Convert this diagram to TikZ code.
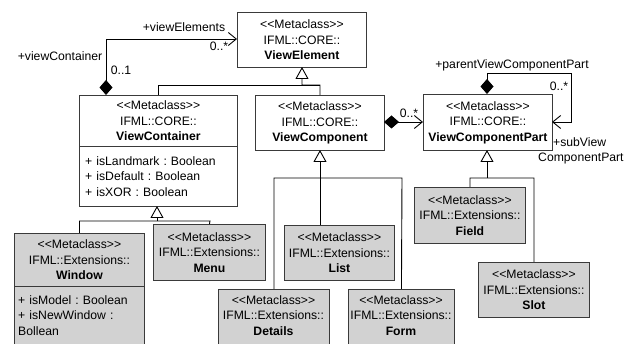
\documentclass[tikz,border=0pt]{standalone}
\usepackage{fontspec}
\setmainfont{Liberation Sans}
\usetikzlibrary{arrows.meta}
\newcommand\metacl{<{}<Metaclass>{}>}
\definecolor{boxline}{HTML}{3A3A3A}
\definecolor{extfill}{HTML}{D2D2D2}
\begin{document}
\frenchspacing
\begin{tikzpicture}[x=1pt,y=-1pt,
  every node/.style={font=\frenchspacing\fontsize{12.2}{15.5}\selectfont, inner sep=0pt},
  cls/.style={draw=boxline, line width=0.9pt, anchor=north west, align=center, fill=white},
  ext/.style={cls, fill=extfill},
  box/.style={draw=boxline, line width=0.9pt, anchor=north west, fill=white},
  attrtext/.style={anchor=north west, align=left},
  lbl/.style={font=\fontsize{12.2}{14}\selectfont, inner sep=1pt},
  conn/.style={draw=black, line width=0.9pt},
  gen/.style={conn, -{Triangle[open, width=13pt, length=12pt, fill=white]}},
  assoc/.style={conn, {Diamond[width=13pt, length=15pt]}-{Straight Barb[length=8pt, width=13pt]}}
]
\clip (0,0) rectangle (635,344);
\fill[white] (0,0) rectangle (635,344);

% core classes
\node[cls, minimum width=129pt, minimum height=55pt] (ve) at (237,12)
  {\metacl\\IFML::CORE::\\\textbf{ViewElement}};
\node[cls, minimum width=158pt, minimum height=51pt] (vc) at (79,95)
  {\metacl\\IFML::CORE::\\\textbf{ViewContainer}};
\node[box, minimum width=158pt, minimum height=60pt] (vca) at (79,146) {};
\node[attrtext, text width=150pt] (vcat) at (85,156)
  {+ isLandmark : Boolean\\+ isDefault : Boolean\\+ isXOR : Boolean};
\node[cls, minimum width=129pt, minimum height=55pt] (vcomp) at (255,95)
  {\metacl\\IFML::CORE::\\\textbf{ViewComponent}};
\node[cls, minimum width=129pt, minimum height=56pt] (vcp) at (423,94)
  {\metacl\\IFML::CORE::\\\textbf{ViewComponentPart}};

% extension classes
\node[ext, minimum width=130pt, minimum height=53pt] (win) at (14,233)
  {\metacl\\IFML::Extensions::\\\textbf{Window}};
\node[box, fill=extfill, minimum width=130pt, minimum height=70pt] (wina) at (14,286) {};
\node[attrtext, text width=124pt] (winat) at (18,295)
  {+ isModel : Boolean\\+ isNewWindow :\\Bollean};
\node[ext, minimum width=112pt, minimum height=56pt] (menu) at (153,224)
  {\metacl\\IFML::Extensions::\\\textbf{Menu}};
\node[ext, minimum width=110pt, minimum height=55pt] (list) at (284,225)
  {\metacl\\IFML::Extensions::\\\textbf{List}};
\node[box, fill=extfill, minimum width=111pt, minimum height=65pt] (det) at (218,289) {};
\node[anchor=north, align=center] (dett) at (273.5,295)
  {\metacl\\IFML::Extensions::\\\textbf{Details}};
\node[box, fill=extfill, minimum width=106pt, minimum height=65pt] (form) at (348,289) {};
\node[anchor=north, align=center] (formt) at (401,295)
  {\metacl\\IFML::Extensions::\\\textbf{Form}};
\node[ext, minimum width=111pt, minimum height=56pt] (field) at (414,187)
  {\metacl\\IFML::Extensions::\\\textbf{Field}};
\node[ext, minimum width=111pt, minimum height=55pt] (slot) at (478,262)
  {\metacl\\IFML::Extensions::\\\textbf{Slot}};

% generalizations: ViewElement
\coordinate (veT) at (302,67);
\draw[conn] (vc.north) |- (320,85);
\draw[gen] (vcomp.north) -- (320,85) -| (veT);
% ViewContainer
\coordinate (vcT) at (157,206);
\draw[conn] (win.north) |- (210,221) -- (menu.north);
\draw[gen] (157,221) -- (vcT);
% ViewComponent
\coordinate (vcompT) at (320,150);
\draw[conn] (det.north) |- (402,178) -- (form.north);
\draw[gen] (320,225) -- (vcompT);
% ViewComponentPart
\coordinate (vcpT) at (487,150);
\draw[conn] (field.north) |- (534,178) -- (slot.north);
\draw[gen] (487,178) -- (vcpT);

% associations
\coordinate (vcD) at (106,95);
\coordinate (veA) at (237,39);
\draw[assoc] (vcD) |- (veA);
\node[lbl, anchor=base] (lve) at (184,32) {+viewElements};
\node[lbl, anchor=base] (lvem) at (219,51) {0..*};
\node[lbl, anchor=base] (lvc) at (60,61) {+viewContainer};
\node[lbl, anchor=base] (lvcm) at (121,75) {0..1};

\coordinate (cpD) at (384,122);
\coordinate (cpA) at (423,122);
\draw[assoc] (cpD) -- (cpA);
\node[lbl, anchor=base] (lcp) at (409,118) {0..*};

\coordinate (spD) at (487,94);
\coordinate (spA) at (552,122);
\draw[assoc] (spD) -- (487,73) -| (571,122) -- (spA);
\node[lbl, anchor=base] (lpar) at (512,69) {+parentViewComponentPart};
\node[lbl, anchor=base] (lpm) at (559,91) {0..*};
\node[lbl, anchor=base west] (lsub) at (552,147) {+subView};
\node[lbl, anchor=base west] (lsub2) at (537,162) {ComponentPart};
\end{tikzpicture}
\end{document}
